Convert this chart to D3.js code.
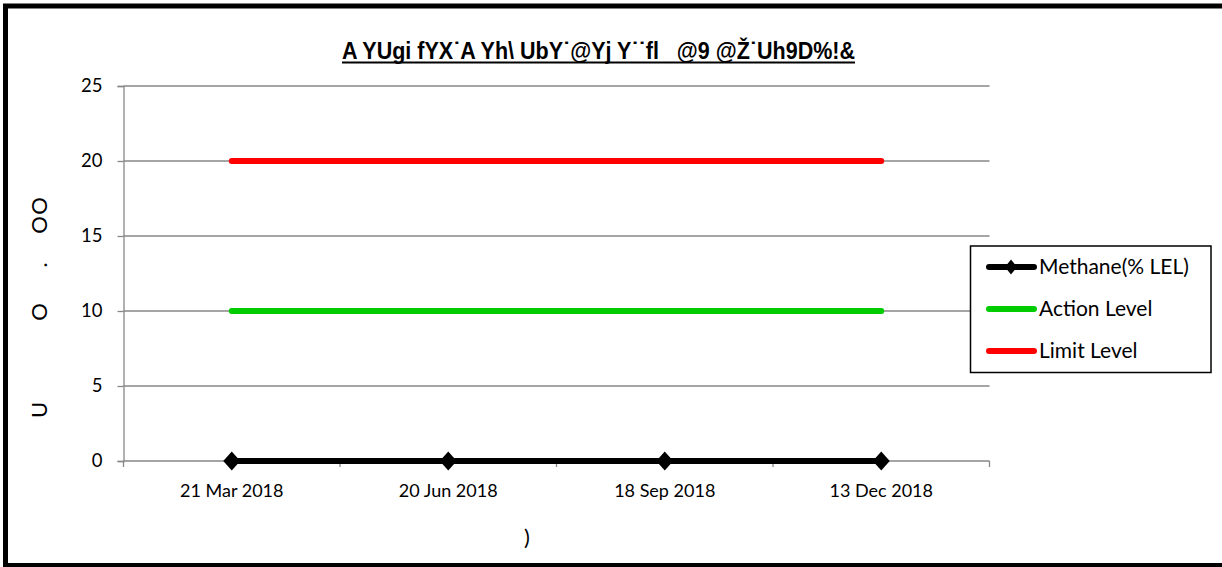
<!DOCTYPE html>
<html>
<head>
<meta charset="utf-8">
<script src="https://cdn.jsdelivr.net/npm/d3@7"></script>
<style>
  body { margin: 0; background: #fff; overflow: hidden; }
  svg { display: block; }
  text { font-family: Lato, "Open Sans", sans-serif; fill: #000; }
</style>
</head>
<body>
<svg id="chart" width="1222" height="567"></svg>
<script>
// chart values
const dates = ["21 Mar 2018", "20 Jun 2018", "18 Sep 2018", "13 Dec 2018"];
const methane = [0, 0, 0, 0];
const actionLevel = [10, 10, 10, 10];
const limitLevel = [20, 20, 20, 20];
const yTicks = [0, 5, 10, 15, 20, 25];
const titleText = "A YUgi fYX\u02d9A Yh\\ UbY\u02d9@Yj Y\u02d9\u02d9fl   @9 @\u017d\u02d9Uh9D%!&";
const xTitle = ")";

const svg = d3.select("#chart");
const plotL = 123.5, plotR = 989.5, plotT = 86, plotB = 461;

const x = d3.scaleBand().domain(dates).range([plotL, plotR]).padding(0);
const y = d3.scaleLinear().domain([0, 25]).range([plotB, plotT]);
const cx = d => x(d) + x.bandwidth() / 2;

// outer frame (right side runs off the picture)
svg.append("rect")
  .attr("x", 5.5).attr("y", 6)
  .attr("width", 1240).attr("height", 559.5)
  .attr("fill", "none").attr("stroke", "#000").attr("stroke-width", 5);

// title
svg.append("text")
  .attr("x", 342).attr("y", 59)
  .attr("textLength", 513).attr("lengthAdjust", "spacingAndGlyphs")
  .style("font-family", "'Liberation Sans', Arial, sans-serif")
  .style("font-weight", "bold").style("font-size", "24px")
  .style("white-space", "pre")
  .text(titleText);
svg.append("rect")
  .attr("x", 342).attr("y", 61.5).attr("width", 513).attr("height", 2)
  .attr("fill", "#000");

// gridlines + y axis
const yAxis = d3.axisLeft(y).tickValues(yTicks).tickSize(6).tickPadding(15);
const gy = svg.append("g").attr("transform", `translate(${plotL},0)`).call(yAxis);
gy.select(".domain").attr("stroke", "#878787").attr("stroke-width", 1.3);
gy.selectAll(".tick line").attr("stroke", "#878787").attr("stroke-width", 1.3);
gy.selectAll(".tick text").style("font-size", "18.5px").style("font-family", "Lato");

svg.append("g").selectAll("line")
  .data(yTicks.filter(d => d > 0))
  .join("line")
  .attr("x1", plotL).attr("x2", plotR)
  .attr("y1", d => y(d)).attr("y2", d => y(d))
  .attr("stroke", "#878787").attr("stroke-width", 1.3);

// x axis: line, boundary ticks, labels
const gx = svg.append("g");
gx.append("line")
  .attr("x1", plotL).attr("x2", plotR).attr("y1", plotB).attr("y2", plotB)
  .attr("stroke", "#878787").attr("stroke-width", 1.3);
gx.selectAll("line.tk")
  .data(d3.range(dates.length + 1))
  .join("line").attr("class", "tk")
  .attr("x1", i => plotL + i * x.step()).attr("x2", i => plotL + i * x.step())
  .attr("y1", plotB).attr("y2", plotB + 6)
  .attr("stroke", "#878787").attr("stroke-width", 1.3);
gx.selectAll("text")
  .data(dates)
  .join("text")
  .attr("x", cx).attr("y", 497)
  .attr("text-anchor", "middle")
  .style("font-size", "18px")
  .text(d => d);

// axis titles (garbled in source)
svg.append("text")
  .attr("x", 527).attr("y", 545)
  .attr("text-anchor", "middle")
  .style("font-size", "22px")
  .text(xTitle);

const yLabelBits = [["U", 410], ["O", 312], [".", 265], ["O", 225], ["O", 206]];
svg.append("g").selectAll("text")
  .data(yLabelBits)
  .join("text")
  .attr("transform", d => `translate(38,${d[1]}) rotate(-90)`)
  .attr("text-anchor", "middle")
  .attr("dominant-baseline", "central")
  .style("font-size", "22px")
  .text(d => d[0]);

// series lines
const line = d3.line().x((d, i) => cx(dates[i])).y(d => y(d));
const series = [
  { name: "Limit Level", values: limitLevel, color: "#ff0000" },
  { name: "Action Level", values: actionLevel, color: "#00cc00" },
  { name: "Methane(% LEL)", values: methane, color: "#000000" }
];
svg.append("g").selectAll("path")
  .data(series)
  .join("path")
  .attr("d", d => line(d.values))
  .attr("fill", "none")
  .attr("stroke", d => d.color)
  .attr("stroke-width", 6)
  .attr("stroke-linecap", "round");

const diamond = (w, h) => `M0,${-h}L${w},0L0,${h}L${-w},0Z`;
svg.append("g").selectAll("path")
  .data(methane)
  .join("path")
  .attr("transform", (d, i) => `translate(${cx(dates[i])},${y(d)})`)
  .attr("d", diamond(8.5, 9.5))
  .attr("fill", "#000");

// legend
const legend = svg.append("g");
legend.append("rect")
  .attr("x", 970.5).attr("y", 246).attr("width", 240.5).attr("height", 126.5)
  .attr("fill", "#fff").attr("stroke", "#000").attr("stroke-width", 1.5);
const legendItems = [series[2], series[1], series[0]];
const li = legend.selectAll("g.item")
  .data(legendItems)
  .join("g").attr("class", "item")
  .attr("transform", (d, i) => `translate(0,${267 + i * 42})`);
li.append("line")
  .attr("x1", 989).attr("x2", 1034)
  .attr("stroke", d => d.color).attr("stroke-width", 6)
  .attr("stroke-linecap", "round");
li.filter(d => d.name.startsWith("Methane"))
  .append("path")
  .attr("transform", "translate(1011,0)")
  .attr("d", diamond(6, 7.5))
  .attr("fill", "#000");
li.append("text")
  .attr("x", 1039).attr("dy", "0.35em")
  .style("font-size", "21px")
  .text(d => d.name);
</script>
</body>
</html>
